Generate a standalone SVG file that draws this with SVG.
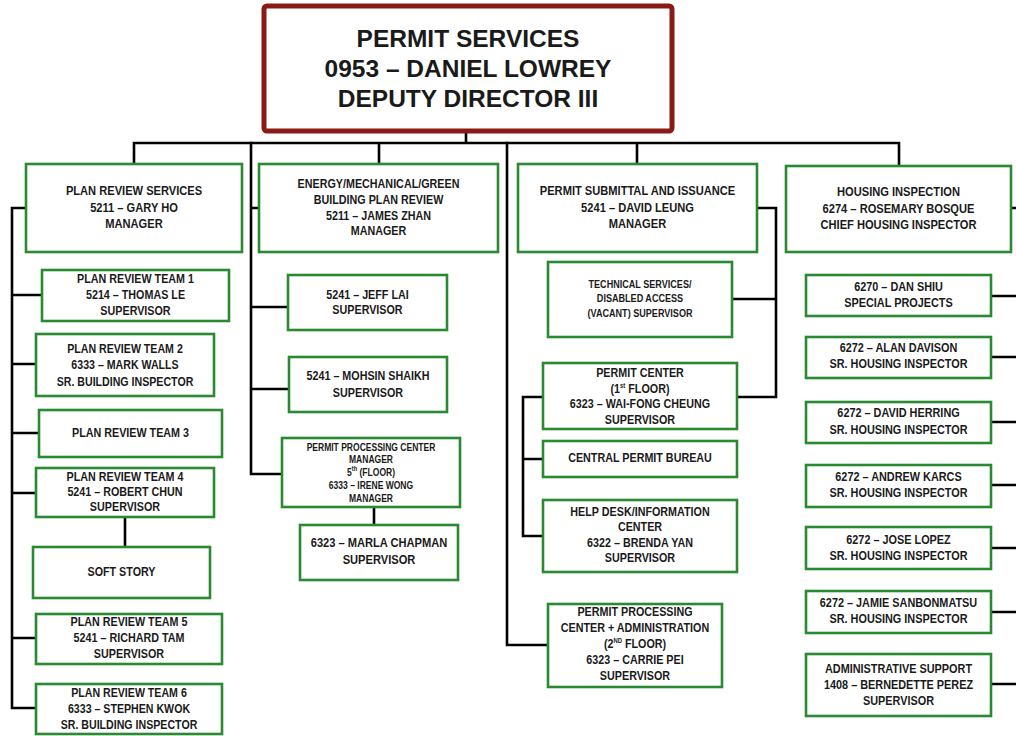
<svg xmlns="http://www.w3.org/2000/svg" width="1016" height="736" viewBox="0 0 1016 736">
  <style>
    .bg { fill: #ffffff; }
    .box { fill: #ffffff; stroke: #2a8a32; stroke-width: 2.6; }
    .head { fill: #ffffff; stroke: #8a1a16; stroke-width: 5; }
    .ln { fill: none; stroke: #000000; stroke-width: 2.6; stroke-linejoin: miter; stroke-linecap: square; }
    text { font-family: "Liberation Sans", Arial, sans-serif; font-weight: bold; fill: #1a1a1a; text-anchor: middle; dominant-baseline: central; }
    .t24 { font-size: 24.5px; }
    .t13 { font-size: 13.4px; }
    .t12 { font-size: 12.8px; }
    .t10 { font-size: 10.8px; }
    .t10s { font-size: 10.4px; }
    .sup { font-size: 7px; }
  </style>
  <rect class="bg" x="0" y="0" width="1016" height="736"/>

  <!-- connectors -->
  <g id="connectors">
    <!-- top level -->
    <path class="ln" d="M466 131 V143 M134 143 H899 M134 143 V164 M379 143 V164 M637 143 V164 M899 143 V166"/>
    <!-- plan review services spine -->
    <path class="ln" d="M26 208 H12 V708 H36 M12 295 H42 M12 364 H36 M12 433 H39 M12 493 H36 M12 638 H36"/>
    <path class="ln" d="M125 517 V547"/>
    <!-- energy / mechanical spine -->
    <path class="ln" d="M251 143 V474 H282 M251 208 H259 M251 307 H288 M251 389 H289"/>
    <path class="ln" d="M374 507 V525"/>
    <!-- permit submittal spine -->
    <path class="ln" d="M507 143 V645 H548"/>
    <path class="ln" d="M757 208 H776 V397 H737 M776 299 H732"/>
    <path class="ln" d="M543 397 H523 V536 H543 M523 459 H543"/>
    <!-- housing inspection branches -->
    <path class="ln" d="M1011 208 H1018 M991 296 H1018 M991 357 H1018 M991 422 H1018 M991 485 H1018 M991 548 H1018 M991 612 H1018 M991 684 H1018"/>
  </g>

  <!-- head -->
  <g id="permit-services">
    <rect class="head" x="264" y="6" width="408" height="125" rx="3"/>
    <text class="t24" x="468" y="38">PERMIT SERVICES</text>
    <text class="t24" x="468" y="68">0953 – DANIEL LOWREY</text>
    <text class="t24" x="468" y="98">DEPUTY DIRECTOR III</text>
  </g>

  <!-- plan review services column -->
  <g id="plan-review-services">
    <rect class="box" x="26" y="164" width="216" height="88"/>
    <g transform="translate(134 0) scale(0.83 1)">
      <text class="t13" x="0" y="191">PLAN REVIEW SERVICES</text>
      <text class="t13" x="0" y="208">5211 – GARY HO</text>
      <text class="t13" x="0" y="224">MANAGER</text>
    </g>
  </g>
  <g id="plan-review-team-1">
    <rect class="box" x="42" y="270" width="187" height="51"/>
    <g transform="translate(135.5 0) scale(0.84 1)">
      <text class="t12" x="0" y="279">PLAN REVIEW TEAM 1</text>
      <text class="t12" x="0" y="295">5214 – THOMAS LE</text>
      <text class="t12" x="0" y="311">SUPERVISOR</text>
    </g>
  </g>
  <g id="plan-review-team-2">
    <rect class="box" x="36" y="334" width="178" height="62"/>
    <g transform="translate(125 0) scale(0.83 1)">
      <text class="t12" x="0" y="348">PLAN REVIEW TEAM 2</text>
      <text class="t12" x="0" y="364">6333 – MARK WALLS</text>
      <text class="t12" x="0" y="381">SR. BUILDING INSPECTOR</text>
    </g>
  </g>
  <g id="plan-review-team-3">
    <rect class="box" x="39" y="410" width="183" height="47"/>
    <g transform="translate(130.5 0) scale(0.84 1)">
      <text class="t12" x="0" y="433">PLAN REVIEW TEAM 3</text>
    </g>
  </g>
  <g id="plan-review-team-4">
    <rect class="box" x="36" y="468" width="178" height="49"/>
    <g transform="translate(125 0) scale(0.84 1)">
      <text class="t12" x="0" y="477">PLAN REVIEW TEAM 4</text>
      <text class="t12" x="0" y="492">5241 – ROBERT CHUN</text>
      <text class="t12" x="0" y="507">SUPERVISOR</text>
    </g>
  </g>
  <g id="soft-story">
    <rect class="box" x="33" y="547" width="177" height="51"/>
    <g transform="translate(121.5 0) scale(0.84 1)">
      <text class="t12" x="0" y="572">SOFT STORY</text>
    </g>
  </g>
  <g id="plan-review-team-5">
    <rect class="box" x="36" y="614" width="186" height="50"/>
    <g transform="translate(129 0) scale(0.84 1)">
      <text class="t12" x="0" y="622">PLAN REVIEW TEAM 5</text>
      <text class="t12" x="0" y="638">5241 – RICHARD TAM</text>
      <text class="t12" x="0" y="654">SUPERVISOR</text>
    </g>
  </g>
  <g id="plan-review-team-6">
    <rect class="box" x="36" y="684" width="186" height="50"/>
    <g transform="translate(129 0) scale(0.83 1)">
      <text class="t12" x="0" y="692">PLAN REVIEW TEAM 6</text>
      <text class="t12" x="0" y="708">6333 – STEPHEN KWOK</text>
      <text class="t12" x="0" y="724">SR. BUILDING INSPECTOR</text>
    </g>
  </g>

  <!-- energy / mechanical / green column -->
  <g id="energy-mechanical-green">
    <rect class="box" x="259" y="164" width="239" height="88"/>
    <g transform="translate(378.5 0) scale(0.84 1)">
      <text class="t12" x="0" y="184">ENERGY/MECHANICAL/GREEN</text>
      <text class="t12" x="0" y="200">BUILDING PLAN REVIEW</text>
      <text class="t12" x="0" y="216">5211 – JAMES ZHAN</text>
      <text class="t12" x="0" y="231">MANAGER</text>
    </g>
  </g>
  <g id="jeff-lai">
    <rect class="box" x="288" y="275" width="159" height="55"/>
    <g transform="translate(367.5 0) scale(0.84 1)">
      <text class="t12" x="0" y="295">5241 – JEFF LAI</text>
      <text class="t12" x="0" y="310">SUPERVISOR</text>
    </g>
  </g>
  <g id="mohsin-shaikh">
    <rect class="box" x="289" y="357" width="158" height="55"/>
    <g transform="translate(368 0) scale(0.84 1)">
      <text class="t12" x="0" y="376">5241 – MOHSIN SHAIKH</text>
      <text class="t12" x="0" y="393">SUPERVISOR</text>
    </g>
  </g>
  <g id="permit-processing-center-manager">
    <rect class="box" x="282" y="438" width="178" height="69"/>
    <g transform="translate(371 0) scale(0.82 1)">
      <text class="t10s" x="0" y="447">PERMIT PROCESSING CENTER</text>
      <text class="t10s" x="0" y="459">MANAGER</text>
      <text class="t10s" x="0" y="472">5<tspan class="sup" baseline-shift="super">th</tspan> (FLOOR)</text>
      <text class="t10s" x="0" y="485">6333 – IRENE WONG</text>
      <text class="t10s" x="0" y="498">MANAGER</text>
    </g>
  </g>
  <g id="marla-chapman">
    <rect class="box" x="300" y="525" width="158" height="55"/>
    <g transform="translate(379 0) scale(0.83 1)">
      <text class="t13" x="0" y="543">6323 – MARLA CHAPMAN</text>
      <text class="t13" x="0" y="560">SUPERVISOR</text>
    </g>
  </g>

  <!-- permit submittal and issuance column -->
  <g id="permit-submittal-issuance">
    <rect class="box" x="518" y="164" width="239" height="88"/>
    <g transform="translate(637.5 0) scale(0.83 1)">
      <text class="t13" x="0" y="191">PERMIT SUBMITTAL AND ISSUANCE</text>
      <text class="t13" x="0" y="208">5241 – DAVID LEUNG</text>
      <text class="t13" x="0" y="224">MANAGER</text>
    </g>
  </g>
  <g id="technical-services">
    <rect class="box" x="548" y="262" width="184" height="75"/>
    <g transform="translate(640 0) scale(0.84 1)">
      <text class="t10" x="0" y="284">TECHNICAL SERVICES/</text>
      <text class="t10" x="0" y="298">DISABLED ACCESS</text>
      <text class="t10" x="0" y="313">(VACANT) SUPERVISOR</text>
    </g>
  </g>
  <g id="permit-center">
    <rect class="box" x="543" y="363" width="194" height="66"/>
    <g transform="translate(640 0) scale(0.84 1)">
      <text class="t12" x="0" y="373">PERMIT CENTER</text>
      <text class="t12" x="0" y="389">(1<tspan class="sup" baseline-shift="super">st</tspan> FLOOR)</text>
      <text class="t12" x="0" y="404">6323 – WAI-FONG CHEUNG</text>
      <text class="t12" x="0" y="420">SUPERVISOR</text>
    </g>
  </g>
  <g id="central-permit-bureau">
    <rect class="box" x="543" y="441" width="194" height="36"/>
    <g transform="translate(640 0) scale(0.84 1)">
      <text class="t12" x="0" y="458">CENTRAL PERMIT BUREAU</text>
    </g>
  </g>
  <g id="help-desk">
    <rect class="box" x="543" y="500" width="194" height="72"/>
    <g transform="translate(640 0) scale(0.84 1)">
      <text class="t12" x="0" y="512">HELP DESK/INFORMATION</text>
      <text class="t12" x="0" y="527">CENTER</text>
      <text class="t12" x="0" y="543">6322 – BRENDA YAN</text>
      <text class="t12" x="0" y="558">SUPERVISOR</text>
    </g>
  </g>
  <g id="permit-processing-administration">
    <rect class="box" x="548" y="604" width="174" height="83"/>
    <g transform="translate(635 0) scale(0.84 1)">
      <text class="t12" x="0" y="612">PERMIT PROCESSING</text>
      <text class="t12" x="0" y="628">CENTER + ADMINISTRATION</text>
      <text class="t12" x="0" y="644">(2<tspan class="sup" baseline-shift="super">ND</tspan> FLOOR)</text>
      <text class="t12" x="0" y="660">6323 – CARRIE PEI</text>
      <text class="t12" x="0" y="676">SUPERVISOR</text>
    </g>
  </g>

  <!-- housing inspection column -->
  <g id="housing-inspection">
    <rect class="box" x="786" y="166" width="225" height="86"/>
    <g transform="translate(898.5 0) scale(0.83 1)">
      <text class="t13" x="0" y="192">HOUSING INSPECTION</text>
      <text class="t13" x="0" y="209">6274 – ROSEMARY BOSQUE</text>
      <text class="t13" x="0" y="225">CHIEF HOUSING INSPECTOR</text>
    </g>
  </g>
  <g id="dan-shiu">
    <rect class="box" x="806" y="275" width="185" height="41"/>
    <g transform="translate(898.5 0) scale(0.85 1)">
      <text class="t12" x="0" y="287">6270 – DAN SHIU</text>
      <text class="t12" x="0" y="303">SPECIAL PROJECTS</text>
    </g>
  </g>
  <g id="alan-davison">
    <rect class="box" x="806" y="337" width="185" height="41"/>
    <g transform="translate(898.5 0) scale(0.85 1)">
      <text class="t12" x="0" y="348">6272 – ALAN DAVISON</text>
      <text class="t12" x="0" y="364">SR. HOUSING INSPECTOR</text>
    </g>
  </g>
  <g id="david-herring">
    <rect class="box" x="806" y="402" width="185" height="41"/>
    <g transform="translate(898.5 0) scale(0.85 1)">
      <text class="t12" x="0" y="413">6272 – DAVID HERRING</text>
      <text class="t12" x="0" y="430">SR. HOUSING INSPECTOR</text>
    </g>
  </g>
  <g id="andrew-karcs">
    <rect class="box" x="806" y="465" width="185" height="42"/>
    <g transform="translate(898.5 0) scale(0.85 1)">
      <text class="t12" x="0" y="477">6272 – ANDREW KARCS</text>
      <text class="t12" x="0" y="493">SR. HOUSING INSPECTOR</text>
    </g>
  </g>
  <g id="jose-lopez">
    <rect class="box" x="806" y="527" width="185" height="42"/>
    <g transform="translate(898.5 0) scale(0.85 1)">
      <text class="t12" x="0" y="540">6272 – JOSE LOPEZ</text>
      <text class="t12" x="0" y="556">SR. HOUSING INSPECTOR</text>
    </g>
  </g>
  <g id="jamie-sanbonmatsu">
    <rect class="box" x="806" y="591" width="185" height="42"/>
    <g transform="translate(898.5 0) scale(0.85 1)">
      <text class="t12" x="0" y="603">6272 – JAMIE SANBONMATSU</text>
      <text class="t12" x="0" y="619">SR. HOUSING INSPECTOR</text>
    </g>
  </g>
  <g id="administrative-support">
    <rect class="box" x="806" y="654" width="185" height="62"/>
    <g transform="translate(898.5 0) scale(0.85 1)">
      <text class="t12" x="0" y="669">ADMINISTRATIVE SUPPORT</text>
      <text class="t12" x="0" y="685">1408 – BERNEDETTE PEREZ</text>
      <text class="t12" x="0" y="701">SUPERVISOR</text>
    </g>
  </g>
</svg>
